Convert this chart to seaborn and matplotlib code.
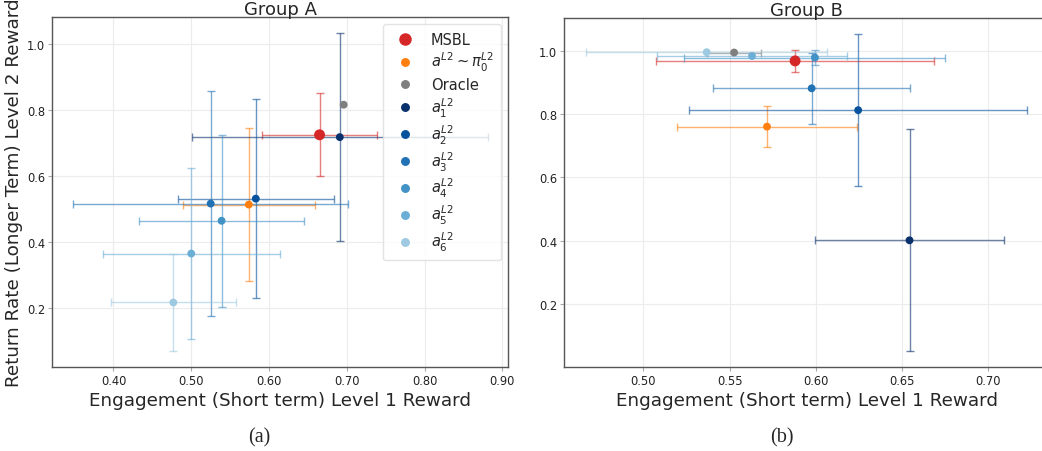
import matplotlib
matplotlib.use("Agg")
import matplotlib.pyplot as plt
from matplotlib.lines import Line2D
import seaborn as sns
import pandas as pd

sns.set_style("whitegrid")

# series names (legend order)
methods = ["MSBL", "pi0", "Oracle", "a1", "a2", "a3", "a4", "a5", "a6"]
labels = ["MSBL", r"$a^{L2} \sim \pi_0^{L2}$", "Oracle",
          r"$a_1^{L2}$", r"$a_2^{L2}$", r"$a_3^{L2}$",
          r"$a_4^{L2}$", r"$a_5^{L2}$", r"$a_6^{L2}$"]
colors = ["#d62728", "#ff7f0e", "#7f7f7f",
          "#08306b", "#08519c", "#2171b5", "#4292c6", "#6baed6", "#9ecae1"]

# Group A
a_x = [0.665, 0.574, 0.696, 0.691, 0.583, 0.525, 0.539, 0.500, 0.477]
a_y = [0.724, 0.513, 0.815, 0.717, 0.531, 0.516, 0.464, 0.365, 0.217]
a_xerr = [0.074, 0.085, 0.0, 0.190, 0.100, 0.177, 0.106, 0.114, 0.080]
a_yerr = [0.126, 0.232, 0.0, 0.315, 0.301, 0.339, 0.260, 0.259, 0.147]

# Group B
b_x = [0.588, 0.5717, 0.5526, 0.6544, 0.6246, 0.5976, 0.5995, 0.563, 0.5367]
b_y = [0.9675, 0.760, 0.994, 0.401, 0.812, 0.881, 0.978, 0.983, 0.995]
b_xerr = [0.0805, 0.052, 0.0155, 0.055, 0.098, 0.057, 0.0757, 0.055, 0.070]
b_yerr = [0.035, 0.065, 0.0, 0.350, 0.241, 0.113, 0.024, 0.0, 0.0]

palette = dict(zip(methods, colors))
sizes = {m: (62 if m == "MSBL" else 32) for m in methods}


def draw_panel(ax, xs, ys, xerrs, yerrs, title):
    df = pd.DataFrame({"method": methods, "x": xs, "y": ys,
                       "xerr": xerrs, "yerr": yerrs})
    for _, row in df.iterrows():
        ax.errorbar(row["x"], row["y"],
                    xerr=row["xerr"] if row["xerr"] > 0 else None,
                    yerr=row["yerr"] if row["yerr"] > 0 else None,
                    fmt="none", ecolor=palette[row["method"]], alpha=0.6,
                    elinewidth=1.0, capsize=3, zorder=2)
    sns.scatterplot(data=df, x="x", y="y", hue="method", palette=palette,
                    size="method", sizes=sizes, linewidth=0, alpha=1.0,
                    legend=False, ax=ax, zorder=3)
    ax.set_title(title, fontsize=13, pad=2)
    ax.set_xlabel("Engagement (Short term) Level 1 Reward", fontsize=13.2, labelpad=3)
    ax.set_ylabel("")
    ax.grid(True, color="#ececec", linewidth=0.8)
    for sp in ax.spines.values():
        sp.set_color("#555555")
        sp.set_linewidth(1.0)
    ax.tick_params(axis="both", labelsize=8.3, length=3, width=0.8,
                   color="#aaaaaa", labelcolor="#222222", pad=2,
                   left=True, bottom=True)


fig = plt.figure(figsize=(10.42, 4.52), dpi=100)
ax1 = fig.add_axes([0.0502, 0.1858, 0.4376, 0.7743])
ax2 = fig.add_axes([0.5413, 0.1858, 0.4655, 0.7722])

draw_panel(ax1, a_x, a_y, a_xerr, a_yerr, "Group A")
draw_panel(ax2, b_x, b_y, b_xerr, b_yerr, "Group B")

ax1.xaxis.set_major_formatter(matplotlib.ticker.FormatStrFormatter("%.2f"))
ax2.xaxis.set_major_formatter(matplotlib.ticker.FormatStrFormatter("%.2f"))
ax1.set_yticks([0.2, 0.4, 0.6, 0.8, 1.0])
ax2.set_yticks([0.2, 0.4, 0.6, 0.8, 1.0])
ax1.set_ylabel("Return Rate (Longer Term) Level 2 Reward", fontsize=13.2, labelpad=3)

handles = [Line2D([], [], marker="o", linestyle="none", color=c,
                  markersize=(8 if m == "MSBL" else 5.4))
           for m, c in zip(methods, colors)]
ax1.legend(handles, labels, loc="upper right", fontsize=10.5,
           frameon=True, edgecolor="#dddddd", handletextpad=0.8,
           labelspacing=0.25, borderpad=0.5)

fig.text(0.249, 0.031, "(a)", family="Liberation Serif", fontsize=14.5,
         ha="center", va="center")
fig.text(0.750, 0.031, "(b)", family="Liberation Serif", fontsize=14.5,
         ha="center", va="center")

fig.savefig("out.png", dpi=100)
